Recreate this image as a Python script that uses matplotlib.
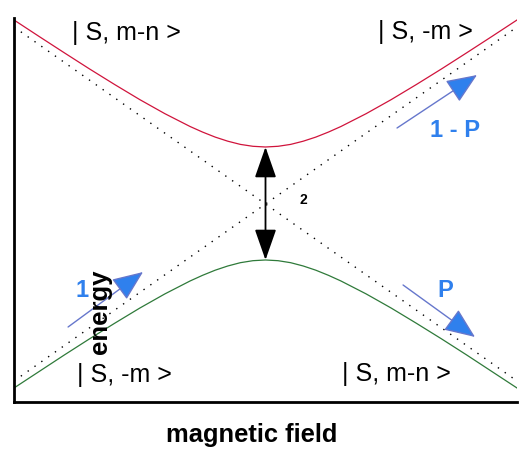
import matplotlib
matplotlib.use("Agg")
import matplotlib.pyplot as plt

plt.rcParams['font.family'] = ['Liberation Sans', 'DejaVu Sans']

# magnetic field (arbitrary units) and level energies
field = [-1.0, -0.9, -0.8, -0.7, -0.6, -0.5, -0.4, -0.3, -0.25, -0.2, -0.15, -0.1, -0.05,
         0.0, 0.05, 0.1, 0.15, 0.2, 0.25, 0.3, 0.4, 0.5, 0.6, 0.7, 0.8, 0.9, 1.0]
upper = [1.84, 1.675, 1.512, 1.351, 1.195, 1.044, 0.903, 0.775, 0.719, 0.669, 0.628, 0.596, 0.577,
         0.57, 0.577, 0.596, 0.628, 0.669, 0.719, 0.775, 0.903, 1.044, 1.195, 1.351, 1.512, 1.675, 1.84]
lower = [-1.84, -1.675, -1.51, -1.349, -1.193, -1.041, -0.899, -0.77, -0.713, -0.662, -0.62, -0.587, -0.567,
         -0.56, -0.567, -0.587, -0.62, -0.662, -0.713, -0.77, -0.899, -1.041, -1.193, -1.349, -1.51, -1.675, -1.84]
# diabatic (dotted) levels: endpoints
diab_field = [-1.0, 1.0]
diab_a = [1.77, -1.77]
diab_b = [-1.77, 1.77]

fig = plt.figure(figsize=(5.21, 4.50), dpi=100)
ax = fig.add_axes([0.0269, 0.1067, 0.9654, 0.8533])
ax.set_xlim(-1.0, 1.0)
ax.set_ylim(-1.98, 1.86)

ax.plot(diab_field, diab_a, color='black', lw=1.0, linestyle=(0, (1, 5)))
ax.plot(diab_field, diab_b, color='black', lw=1.0, linestyle=(0, (1, 5)))
ax.plot(field, upper, color='#d0143c', lw=0.9)
ax.plot(field, lower, color='#2f7a3a', lw=0.9)

# gap double arrow
ax.annotate('', xy=(0.0, lower[13]), xytext=(0.0, upper[13]),
            arrowprops=dict(arrowstyle='<|-|>,head_length=1.2,head_width=0.42',
                            color='black', lw=1.3, shrinkA=0, shrinkB=0, mutation_scale=16))
ax.text(0.149, 0.04, '2', fontsize=10, fontweight='bold', ha='center', va='center')

blue = '#2f80ed'
shaft = '#6677cc'
for (x0, y0, x1, y1) in [(-0.785, -1.23, -0.487, -0.68),
                         (0.523, 0.76, 0.841, 1.29),
                         (0.547, -0.81, 0.833, -1.33)]:
    ax.annotate('', xy=(x1, y1), xytext=(x0, y0),
                arrowprops=dict(arrowstyle='-|>,head_length=1.2,head_width=0.5',
                                fc=blue, ec=shaft, lw=1.0, shrinkA=0, shrinkB=0,
                                mutation_scale=16))

ax.text(0.753, 0.73, '1 - P', color=blue, fontsize=17, fontweight='bold', ha='center', va='center')
ax.text(0.714, -0.87, 'P', color=blue, fontsize=17, fontweight='bold', ha='center', va='center')
ax.text(-0.73, -0.87, '1', color=blue, fontsize=17, fontweight='bold', ha='center', va='center')

ax.text(-0.551, 1.71, '| S, m-n >', fontsize=18, ha='center', va='center')
ax.text(0.634, 1.72, '| S, -m >', fontsize=18, ha='center', va='center')
ax.text(-0.559, -1.71, '| S, -m >', fontsize=18, ha='center', va='center')
ax.text(0.519, -1.70, '| S, m-n >', fontsize=18, ha='center', va='center')
ax.text(-0.658, -1.08, 'energy', fontsize=18.5, fontweight='bold', rotation=90,
        ha='center', va='center')

fig.text(0.4837, 0.0333, 'magnetic field', fontsize=18.4, fontweight='bold', ha='center', va='center')

ax.set_xticks([])
ax.set_yticks([])
for s in ['top', 'right']:
    ax.spines[s].set_visible(False)
for s in ['left', 'bottom']:
    ax.spines[s].set_linewidth(2.0)

fig.savefig('out.png', dpi=100)
